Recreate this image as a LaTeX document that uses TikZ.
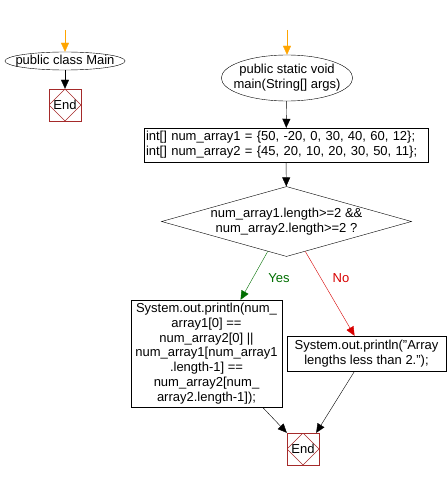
\documentclass[tikz,border=0pt]{standalone}
\usepackage{fontspec}
\setmainfont{Liberation Sans}
\usepackage{tikz}
\usetikzlibrary{arrows.meta,positioning,shapes.geometric,calc}
\definecolor{StartOrange}{RGB}{255, 165, 0}
\definecolor{EndRed}{RGB}{165, 42, 42}
\definecolor{YesGreen}{RGB}{0, 110, 0}
\definecolor{NoRed}{RGB}{215, 0, 0}

\begin{document}
\begin{tikzpicture}[x=1pt, y=-1pt,
        every node/.style={font=\fontsize{13}{14.8}\selectfont, inner sep=0pt},
        term/.style={draw, ellipse, align=center, inner xsep=-7pt, inner ysep=0pt, minimum width=#1, minimum height=18},
        stmt/.style={draw, rectangle, align=center},
        cond/.style={draw, diamond, align=center, aspect=3.57, minimum width=250, minimum height=70},
        endbox/.style={draw=EndRed, rectangle, minimum size=32,
          path picture={\draw[EndRed] (path picture bounding box.north) -- (path picture bounding box.east)
            -- (path picture bounding box.south) -- (path picture bounding box.west) -- cycle;}},
        arr/.style={-{Triangle[length=9pt, width=8pt]}, thin, color=black},
        startarr/.style={arr, color=StartOrange}]

        \useasboundingbox (0,0) rectangle (447,481);

        % class Main
        \coordinate (cstart) at (65,30);
        \node[term=119] (cls) at (65,61) {public class Main};
        \node[endbox] (cend) at (65,105) {End};

        \draw[startarr] (cstart) -- (cls);
        \draw[arr] (cls) -- (cend);

        % main method
        \coordinate (mstart) at (287,30);
        \node[term=129, minimum height=46] (main) at (287,78) {public static void\\main(String[] args)};
        \node[stmt, align=left, text width=280, inner xsep=2pt, minimum height=34] (arrs) at (286,145)
          {int[] num\_array1 = \{50, -20, 0, 30, 40, 60, 12\};\\int[] num\_array2 = \{45, 20, 10, 20, 30, 50, 11\};};
        \node[cond] (chk) at (286.5,221.5) {num\_array1.length>=2 \&\&\\num\_array2.length>=2 ?};

        \node[stmt, minimum width=151, minimum height=107] (cmp) at (206.5,353.5)
          {System.out.println(num\_\\array1[0] ==\\num\_array2[0] ||\\num\_array1[num\_array1\\.length-1] ==\\num\_array2[num\_\\array2.length-1]);};
        \node[stmt, minimum width=159, minimum height=35] (msg) at (366.5,353.5)
          {System.out.println("Array\\lengths less than 2.");};
        \node[endbox] (mend) at (303,449) {End};

        \node[text=YesGreen] (yes) at (279,278) {Yes};
        \node[text=NoRed] (no) at (341,278) {No};

        \draw[startarr] (mstart) -- (main);
        \draw[arr] (main) -- (arrs);
        \draw[arr] (arrs) -- (chk);
        \draw[arr, color=YesGreen] ($(chk.south)!0.15!(chk.west)$) -- ($(cmp.north)!0.45!(cmp.north east)$);
        \draw[arr, color=NoRed] ($(chk.south)!0.15!(chk.east)$) -- ($(msg.north)!0.15!(msg.north west)$);
        \draw[arr] ($(cmp.south)!0.74!(cmp.south east)$) -- (mend.north west);
        \draw[arr] ($(msg.south)!0.15!(msg.south west)$) -- ($(mend.north east)+(-3,0)$);
      \end{tikzpicture}
\end{document}
